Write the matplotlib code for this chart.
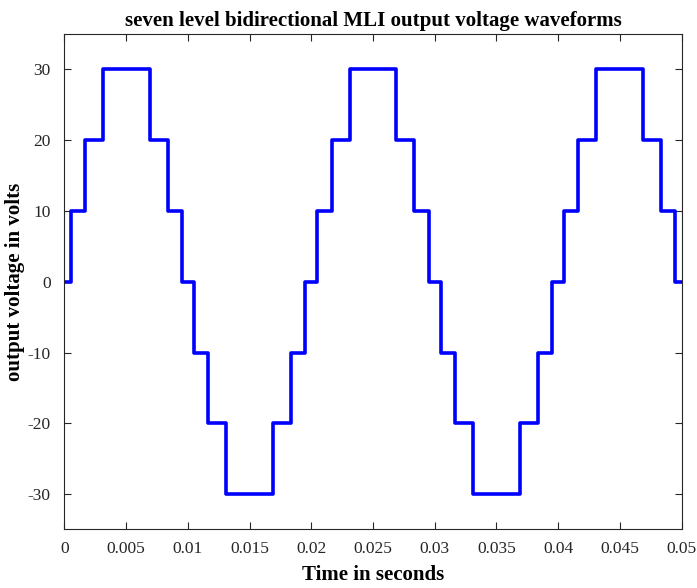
import matplotlib
matplotlib.use("Agg")
import matplotlib.pyplot as plt

# switching instants (s) and the voltage level held after each instant
time_s = [0.0, 0.0005, 0.00165, 0.0031, 0.0069, 0.00835, 0.0095,
          0.0105, 0.01165, 0.0131, 0.0169, 0.01835, 0.0195,
          0.0205, 0.02165, 0.0231, 0.0269, 0.02835, 0.0295,
          0.0305, 0.03165, 0.0331, 0.0369, 0.03835, 0.0395,
          0.0405, 0.04165, 0.0431, 0.0469, 0.04835, 0.0495, 0.05]
volts = [0, 10, 20, 30, 20, 10, 0,
         -10, -20, -30, -20, -10, 0,
         10, 20, 30, 20, 10, 0,
         -10, -20, -30, -20, -10, 0,
         10, 20, 30, 20, 10, 0, 0]

x_ticks = [0, 0.005, 0.01, 0.015, 0.02, 0.025, 0.03, 0.035, 0.04, 0.045, 0.05]
x_tick_labels = ["0", "0.005", "0.01", "0.015", "0.02", "0.025", "0.03",
                 "0.035", "0.04", "0.045", "0.05"]
y_ticks = [-30, -20, -10, 0, 10, 20, 30]
y_tick_labels = ["-30", "-20", "-10", "0", "10", "20", "30"]

plt.rcParams['font.family'] = ['Liberation Serif', 'DejaVu Serif']

fig = plt.figure(figsize=(6.97, 5.88), dpi=100)
ax = fig.add_axes([0.0925, 0.0995, 0.8853, 0.8427])

ax.step(time_s, volts, where='post', color='#0000ff', linewidth=2.6)

ax.set_xlim(0, 0.05)
ax.set_ylim(-35, 35)
ax.set_xticks(x_ticks)
ax.set_xticklabels(x_tick_labels)
ax.set_yticks(y_ticks)
ax.set_yticklabels(y_tick_labels)

ax.tick_params(direction='in', length=5, width=0.8, colors='#262626',
               labelsize=12.5, top=True, right=True, pad=8)
ax.tick_params(axis='y', pad=10)
for sp in ax.spines.values():
    sp.set_color('#262626')
    sp.set_linewidth(0.8)

ax.set_title("seven level bidirectional MLI output voltage waveforms",
             fontsize=15, fontweight='bold', pad=6)
ax.set_xlabel("Time in seconds", fontsize=15, fontweight='bold', labelpad=6)
ax.set_ylabel("output voltage in volts", fontsize=15, fontweight='bold', labelpad=1.5)

fig.savefig("out.png", dpi=100)
